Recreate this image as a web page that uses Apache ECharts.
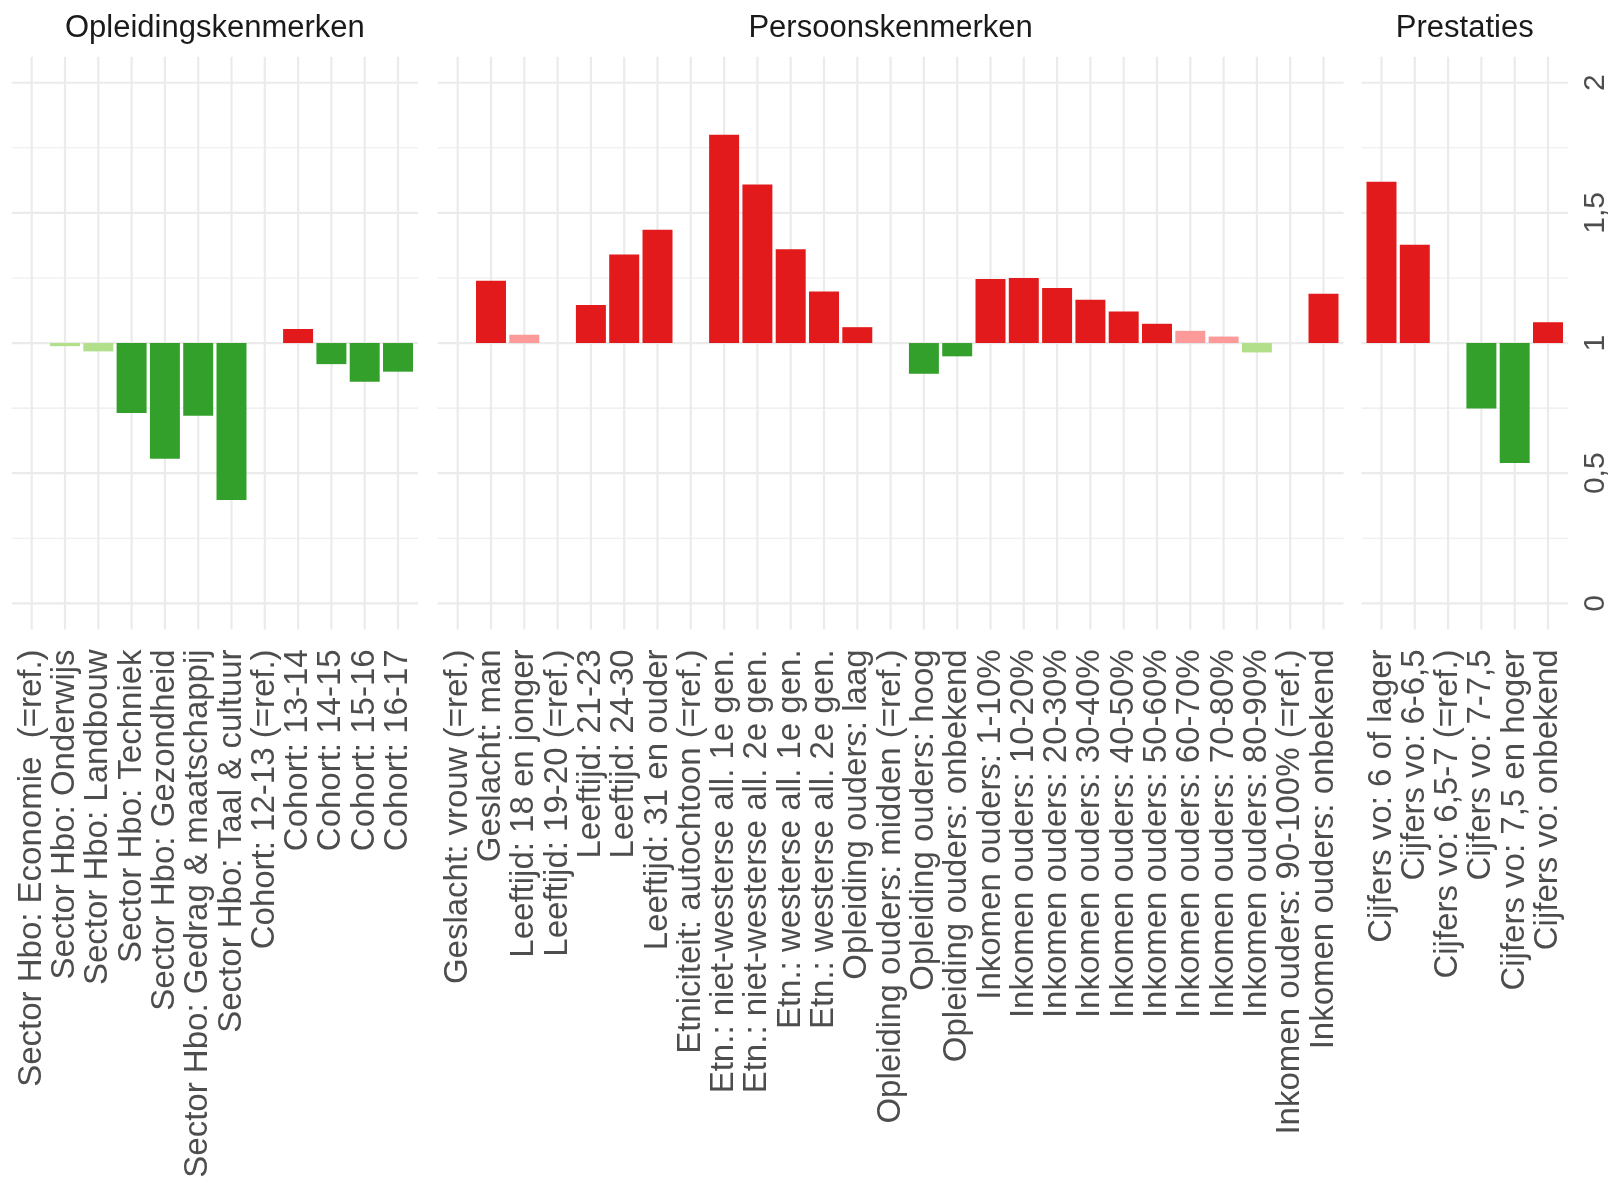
<!DOCTYPE html>
<html>
<head>
<meta charset="utf-8">
<script src="https://cdn.jsdelivr.net/npm/echarts@6/dist/echarts.min.js"></script>
<style>
  html, body { margin: 0; padding: 0; background: #ffffff; }
  #chart { width: 1614px; height: 1189px; }
</style>
</head>
<body>
<div id="chart"></div>
<script>
// ---------- data ----------
const panelTitles = ['Opleidingskenmerken', 'Persoonskenmerken', 'Prestaties'];

const cat1 = ['Sector Hbo: Economie  (=ref.)', 'Sector Hbo: Onderwijs', 'Sector Hbo: Landbouw',
  'Sector Hbo: Techniek', 'Sector Hbo: Gezondheid', 'Sector Hbo: Gedrag & maatschappij',
  'Sector Hbo: Taal & cultuur', 'Cohort: 12-13 (=ref.)', 'Cohort: 13-14', 'Cohort: 14-15',
  'Cohort: 15-16', 'Cohort: 16-17'];
const val1 = [null, 0.988, 0.968, 0.731, 0.556, 0.721, 0.397, null, 1.054, 0.919, 0.851, 0.890];
const sig1 = [0, 0, 0, 1, 1, 1, 1, 0, 1, 1, 1, 1];

const cat2 = ['Geslacht: vrouw (=ref.)', 'Geslacht: man', 'Leeftijd: 18 en jonger',
  'Leeftijd: 19-20 (=ref.)', 'Leeftijd: 21-23', 'Leeftijd: 24-30', 'Leeftijd: 31 en ouder',
  'Etniciteit: autochtoon (=ref.)', 'Etn.: niet-westerse all. 1e gen.', 'Etn.: niet-westerse all. 2e gen.',
  'Etn.: westerse all. 1e gen.', 'Etn.: westerse all. 2e gen.', 'Opleiding ouders: laag',
  'Opleiding ouders: midden (=ref.)', 'Opleiding ouders: hoog', 'Opleiding ouders: onbekend',
  'Inkomen ouders: 1-10%', 'Inkomen ouders: 10-20%', 'Inkomen ouders: 20-30%',
  'Inkomen ouders: 30-40%', 'Inkomen ouders: 40-50%', 'Inkomen ouders: 50-60%',
  'Inkomen ouders: 60-70%', 'Inkomen ouders: 70-80%', 'Inkomen ouders: 80-90%',
  'Inkomen ouders: 90-100% (=ref.)', 'Inkomen ouders: onbekend'];
const val2 = [null, 1.239, 1.032, null, 1.146, 1.340, 1.435, null, 1.800, 1.609, 1.360, 1.198,
  1.061, null, 0.882, 0.949, 1.246, 1.250, 1.211, 1.166, 1.121, 1.074, 1.047, 1.025, 0.964, null, 1.189];
const sig2 = [0, 1, 0, 0, 1, 1, 1, 0, 1, 1, 1, 1, 1, 0, 1, 1, 1, 1, 1, 1, 1, 1, 0, 0, 0, 0, 1];

const cat3 = ['Cijfers vo: 6 of lager', 'Cijfers vo: 6-6,5', 'Cijfers vo: 6,5-7 (=ref.)',
  'Cijfers vo: 7-7,5', 'Cijfers vo: 7,5 en hoger', 'Cijfers vo: onbekend'];
const val3 = [1.620, 1.378, null, 0.749, 0.539, 1.080];
const sig3 = [1, 1, 0, 1, 1, 1];

const yTickValues = [0, 0.5, 1, 1.5, 2];
const yGridValues = [0, 0.25, 0.5, 0.75, 1, 1.25, 1.5, 1.75, 2];
const baseline = 1;

// ---------- styling ----------
const FONT = "'Liberation Sans', Arial, Helvetica, sans-serif";
const COL_UP_SIG = '#e31a1c', COL_UP_NS = '#fb9a99', COL_DN_SIG = '#33a02c', COL_DN_NS = '#b2df8a';
const GRID_COL = '#ebebeb';
const BAND = 33.3;
const TOP = 56.7, HEIGHT = 572.7;
const grids = [
  { left: 31.7 - BAND / 2, width: 12 * BAND, top: TOP, height: HEIGHT },
  { left: 457.7 - BAND / 2, width: 27 * BAND, top: TOP, height: HEIGHT },
  { left: 1381.5 - BAND / 2, width: 6 * BAND, top: TOP, height: HEIGHT }
];
const panels = [
  { cats: cat1, vals: val1, sig: sig1 },
  { cats: cat2, vals: val2, sig: sig2 },
  { cats: cat3, vals: val3, sig: sig3 }
];

function colorFor(v, s) {
  if (v >= baseline) return s ? COL_UP_SIG : COL_UP_NS;
  return s ? COL_DN_SIG : COL_DN_NS;
}

const xAxes = [], yAxes = [], series = [], titles = [];
panels.forEach((p, k) => {
  xAxes.push({
    type: 'category', gridIndex: k, data: p.cats,
    axisLine: { show: false }, axisTick: { show: false }, splitLine: { show: false },
    axisLabel: { interval: 0, rotate: 90, margin: 20, fontSize: 33, color: '#4d4d4d', fontFamily: FONT }
  });
  const yA = {
    type: 'value', gridIndex: k, min: -0.1, max: 2.1,
    axisLine: { show: false }, axisTick: { show: false }, splitLine: { show: false },
    axisLabel: { show: false }
  };
  if (k === 2) {
    yA.position = 'right';
    yA.axisLabel = {
      show: true, customValues: yTickValues, rotate: 90, margin: 16, fontSize: 30,
      color: '#4d4d4d', fontFamily: FONT,
      formatter: v => String(v).replace('.', ',')
    };
  }
  yAxes.push(yA);

  // gridlines via library scales
  const gdata = [];
  yGridValues.forEach(v => gdata.push([0, v, (v * 2) % 1 === 0 ? 0 : 1]));
  p.cats.forEach((c, i) => gdata.push([i, 0, 2]));
  series.push({
    type: 'custom', xAxisIndex: k, yAxisIndex: k, z: 1, silent: true, clip: false,
    data: gdata,
    renderItem: (params, api) => {
      const cs = params.coordSys;
      const kind = api.value(2);
      if (kind === 2) {
        const x = api.coord([api.value(0), 0])[0];
        return { type: 'line', shape: { x1: x, y1: cs.y, x2: x, y2: cs.y + cs.height },
          style: { stroke: GRID_COL, lineWidth: 2.2 } };
      }
      const y = api.coord([0, api.value(1)])[1];
      const ext = api.size([1, 0])[0] * 0.1;
      return { type: 'line', shape: { x1: cs.x - ext, y1: y, x2: cs.x + cs.width + ext, y2: y },
        style: { stroke: GRID_COL, lineWidth: kind === 0 ? 2.2 : 1.1 } };
    }
  });

  // bars from baseline 1: transparent base + coloured delta (stacked)
  series.push({
    type: 'bar', xAxisIndex: k, yAxisIndex: k, stack: 's' + k, z: 3, silent: true,
    barWidth: '90%',
    itemStyle: { color: 'rgba(0,0,0,0)' },
    data: p.vals.map(v => v == null ? null : Math.min(v, baseline))
  });
  series.push({
    type: 'bar', xAxisIndex: k, yAxisIndex: k, stack: 's' + k, z: 3, silent: true,
    barWidth: '90%',
    data: p.vals.map((v, i) => v == null ? null : {
      value: Math.abs(v - baseline),
      itemStyle: { color: colorFor(v, p.sig[i]) }
    })
  });

  titles.push({
    text: panelTitles[k],
    left: grids[k].left + grids[k].width / 2, top: 13, textAlign: 'center', padding: 0,
    textStyle: { fontSize: 31, fontWeight: 'normal', color: '#1a1a1a', fontFamily: FONT }
  });
});

const chart = echarts.init(document.getElementById('chart'), null, { renderer: 'canvas' });
chart.setOption({
  animation: false,
  backgroundColor: '#ffffff',
  title: titles,
  grid: grids,
  xAxis: xAxes,
  yAxis: yAxes,
  series: series
});
</script>
</body>
</html>
